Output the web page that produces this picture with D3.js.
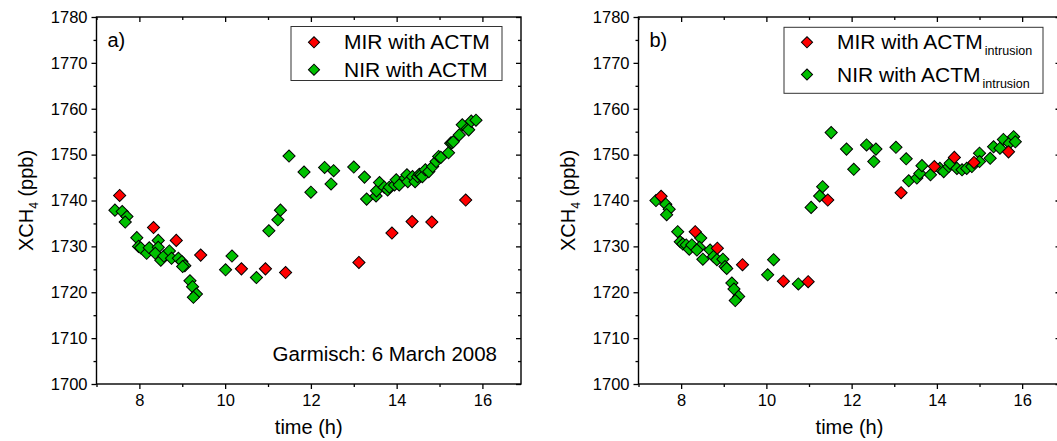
<!DOCTYPE html>
<html>
<head>
<meta charset="utf-8">
<script src="https://cdn.jsdelivr.net/npm/d3@7"></script>
<style>
  html, body { margin: 0; padding: 0; background: #fff; }
  svg { display: block; font-family: "Liberation Sans", Arial, sans-serif; }
</style>
</head>
<body>
<svg id="chart" width="1057" height="441"></svg>
<script>
// XCH4 at Garmisch, 6 March 2008 — two panels, MIR vs NIR retrievals
const RED = '#ff0000';
const GREEN = '#00c000';

// panel a) — ACTM
const A_MIR_T = [7.54, 8.33, 8.86, 9.43, 10.38, 10.94, 11.41, 13.12, 13.89, 14.36, 14.82, 15.61];
const A_MIR_V = [1741.1, 1734.1, 1731.3, 1728.1, 1725.1, 1725.1, 1724.3, 1726.5, 1732.9, 1735.4, 1735.3, 1740.1];

const A_NIR_T = [7.43, 7.60, 7.71, 7.67, 7.94, 7.98, 8.03, 8.17, 8.23, 8.44, 8.44, 8.37, 8.50, 8.57, 8.70, 8.75,
  8.91, 8.99, 9.06, 9.01, 9.18, 9.24, 9.33, 9.26, 10.01, 10.16, 10.73, 11.02, 11.23, 11.29, 11.49, 11.84,
  12.00, 12.32, 12.53, 12.47, 13.00, 13.25, 13.30, 13.52, 13.53, 13.60, 13.71, 13.79, 13.83, 13.95, 13.99,
  14.06, 14.20, 14.24, 14.26, 14.37, 14.43, 14.49, 14.53, 14.57, 14.60, 14.67, 14.75, 14.84, 14.92, 14.98,
  15.03, 15.21, 15.26, 15.29, 15.32, 15.46, 15.53, 15.65, 15.68, 15.74, 15.85];
const A_NIR_V = [1737.9, 1737.6, 1736.5, 1735.3, 1731.9, 1730.0, 1729.7, 1728.5, 1729.7, 1731.3, 1729.8, 1728.5,
  1727.0, 1727.9, 1729.0, 1727.4, 1727.4, 1726.7, 1725.8, 1725.6, 1722.5, 1721.2, 1719.6, 1718.9, 1724.9,
  1727.9, 1723.2, 1733.4, 1735.8, 1737.9, 1749.7, 1746.2, 1741.8, 1747.2, 1746.5, 1743.6, 1747.3, 1745.1,
  1740.3, 1741.0, 1742.1, 1743.9, 1742.9, 1742.3, 1742.9, 1743.4, 1744.5, 1743.4, 1744.9, 1745.6, 1744.1,
  1745.2, 1744.1, 1745.2, 1745.7, 1745.6, 1745.2, 1746.7, 1746.3, 1747.4, 1748.5, 1749.6, 1749.4, 1750.4,
  1752.5, 1752.6, 1752.8, 1754.3, 1756.5, 1755.7, 1755.4, 1757.3, 1757.5];

// panel b) — ACTM intrusion
const B_MIR_T = [7.53, 8.33, 8.85, 9.44, 10.40, 10.98, 11.44, 13.16, 13.94, 14.41, 14.87, 15.68];
const B_MIR_V = [1740.9, 1733.2, 1729.6, 1726.0, 1722.4, 1722.3, 1740.1, 1741.7, 1747.4, 1749.4, 1748.3, 1750.6];

const B_NIR_T = [7.41, 7.64, 7.72, 7.66, 7.92, 7.98, 8.04, 8.12, 8.19, 8.25, 8.46, 8.43, 8.37, 8.51, 8.68, 8.76,
  8.84, 8.98, 9.03, 9.07, 9.19, 9.24, 9.35, 9.27, 10.03, 10.17, 10.75, 11.05, 11.25, 11.32, 11.52, 11.88,
  12.05, 12.35, 12.57, 12.52, 13.04, 13.28, 13.34, 13.53, 13.60, 13.65, 13.85, 14.07, 14.16, 14.28, 14.31,
  14.47, 14.59, 14.70, 14.82, 15.00, 15.00, 15.25, 15.33, 15.48, 15.56, 15.70, 15.80, 15.84];
const B_NIR_V = [1740.0, 1739.2, 1738.1, 1736.9, 1733.2, 1731.0, 1730.5, 1730.3, 1729.4, 1730.3, 1731.8, 1729.8,
  1729.2, 1727.2, 1729.2, 1727.8, 1727.1, 1727.2, 1725.6, 1725.2, 1722.0, 1720.7, 1719.1, 1718.2, 1723.8,
  1727.1, 1721.8, 1738.5, 1741.0, 1743.0, 1754.8, 1751.2, 1746.8, 1752.1, 1751.2, 1748.5, 1751.6, 1749.1,
  1744.3, 1744.9, 1745.9, 1747.6, 1745.6, 1747.0, 1746.3, 1747.4, 1748.1, 1747.0, 1746.7, 1747.0, 1747.4,
  1750.3, 1748.5, 1749.2, 1751.7, 1751.4, 1753.3, 1752.5, 1753.9, 1752.8];

const X_MAJOR = [8, 10, 12, 14, 16];
const X_MINOR = [7, 9, 11, 13, 15];
const Y_MAJOR = [1700, 1710, 1720, 1730, 1740, 1750, 1760, 1770, 1780];
const Y_MINOR = [1705, 1715, 1725, 1735, 1745, 1755, 1765, 1775];

const zip = (ts, vs) => ts.map((t, i) => ({ t, v: vs[i] }));

const PANELS = [
  { x0: 96.5, x1: 521, tag: 'a)', sub: null, mir: zip(A_MIR_T, A_MIR_V), nir: zip(A_NIR_T, A_NIR_V),
    legend: { x: 291, y: 26.5, w: 211, h: 54, rows: [49.3, 76.7] }, note: 'Garmisch: 6 March 2008' },
  { x0: 638.5, x1: 1060.5, tag: 'b)', sub: 'intrusion', mir: zip(B_MIR_T, B_MIR_V), nir: zip(B_NIR_T, B_NIR_V),
    legend: { x: 784, y: 27.3, w: 259, h: 66, rows: [49.3, 81.5] }, note: null }
];

const TOP = 17, BOT = 384;
const svg = d3.select('#chart');
const diamond = d3.symbol(d3.symbolSquare, 74)();

function drawPanel(p) {
  const x = d3.scaleLinear().domain([7, 16.9]).range([p.x0, p.x1]);
  const y = d3.scaleLinear().domain([1700, 1780]).range([BOT, TOP]);
  const g = svg.append('g');

  const tickStyle = sel => {
    sel.select('.domain').remove();
    sel.selectAll('line').attr('stroke', '#000').attr('stroke-width', 1.3);
    sel.selectAll('text').attr('font-family', '"Liberation Sans", Arial, sans-serif')
      .attr('font-size', 16.5).attr('fill', '#000');
  };

  // bottom (outward) and top (inward)
  g.append('g').attr('transform', `translate(0,${BOT})`)
    .call(d3.axisBottom(x).tickValues(X_MAJOR).tickSize(5).tickPadding(5).tickFormat(d3.format('d'))).call(tickStyle);
  g.append('g').attr('transform', `translate(0,${BOT})`)
    .call(d3.axisBottom(x).tickValues(X_MINOR).tickSize(3).tickFormat('')).call(tickStyle);
  g.append('g').attr('transform', `translate(0,${TOP})`)
    .call(d3.axisTop(x).tickValues(X_MAJOR).tickSize(-5).tickFormat('')).call(tickStyle);
  g.append('g').attr('transform', `translate(0,${TOP})`)
    .call(d3.axisTop(x).tickValues(X_MINOR).tickSize(-3).tickFormat('')).call(tickStyle);

  // left (outward) and right (inward)
  g.append('g').attr('transform', `translate(${p.x0},0)`)
    .call(d3.axisLeft(y).tickValues(Y_MAJOR).tickSize(5).tickPadding(4).tickFormat(d3.format('d'))).call(tickStyle);
  g.append('g').attr('transform', `translate(${p.x0},0)`)
    .call(d3.axisLeft(y).tickValues(Y_MINOR).tickSize(3).tickFormat('')).call(tickStyle);
  g.append('g').attr('transform', `translate(${p.x1},0)`)
    .call(d3.axisRight(y).tickValues(Y_MAJOR).tickSize(-5).tickFormat('')).call(tickStyle);
  g.append('g').attr('transform', `translate(${p.x1},0)`)
    .call(d3.axisRight(y).tickValues(Y_MINOR).tickSize(-3).tickFormat('')).call(tickStyle);

  g.append('rect').attr('x', p.x0).attr('y', TOP).attr('width', p.x1 - p.x0).attr('height', BOT - TOP)
    .attr('fill', 'none').attr('stroke', '#000').attr('stroke-width', 1.4);

  // markers: NIR first, MIR on top
  const drawSet = (data, fill) => g.append('g').selectAll('path').data(data).join('path')
    .attr('d', diamond)
    .attr('transform', d => `translate(${x(d.t)},${y(d.v)}) rotate(45)`)
    .attr('fill', fill).attr('stroke', '#000').attr('stroke-width', 1);
  drawSet(p.nir, GREEN);
  drawSet(p.mir, RED);

  // axis titles
  g.append('text').attr('x', (p.x0 + p.x1) / 2).attr('y', 434)
    .attr('text-anchor', 'middle').attr('font-size', 20).text('time (h)');
  const yl = g.append('text')
    .attr('transform', `translate(${p.x0 - 64},${(TOP + BOT) / 2}) rotate(-90)`)
    .attr('text-anchor', 'middle').attr('font-size', 20);
  yl.append('tspan').text('XCH');
  yl.append('tspan').attr('font-size', 12).attr('dy', 5).text('4');
  yl.append('tspan').attr('dy', -5).text(' (ppb)');

  g.append('text').attr('x', p.x0 + 11).attr('y', 46.5).attr('font-size', 20).text(p.tag);

  // legend
  const L = p.legend;
  g.append('rect').attr('x', L.x).attr('y', L.y).attr('width', L.w).attr('height', L.h)
    .attr('fill', '#fff').attr('stroke', '#333').attr('stroke-width', 1);
  [['MIR with ACTM', RED], ['NIR with ACTM', GREEN]].forEach(([label, fill], i) => {
    const by = L.rows[i];
    g.append('path').attr('d', d3.symbol(d3.symbolSquare, 62)())
      .attr('transform', `translate(${L.x + 23},${by - 7}) rotate(45)`)
      .attr('fill', fill).attr('stroke', '#000').attr('stroke-width', 1);
    const t = g.append('text').attr('x', L.x + 53).attr('y', by).attr('font-size', 21);
    t.append('tspan').text(label);
    if (p.sub) t.append('tspan').attr('font-size', 12.5).attr('dx', 2).attr('dy', 6).text(p.sub);
  });

  if (p.note) {
    g.append('text').attr('x', 497).attr('y', 361).attr('text-anchor', 'end')
      .attr('font-size', 20.5).text(p.note);
  }
}

PANELS.forEach(drawPanel);
</script>
</body>
</html>
